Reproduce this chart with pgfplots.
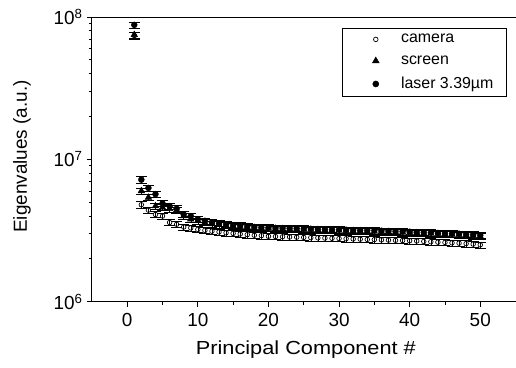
\documentclass[border=0pt]{standalone}
\usepackage{pgfplots}
\pgfplotsset{compat=1.18}
\usepackage{pgfplotstable}
\usepackage{graphicx}
\usepackage{fontspec}
\setmainfont{Liberation Sans}

\pgfplotstableread{
x y
1 7.4e7
2 4.8e6
3 4.4e6
4 4.1e6
5 4.0e6
6 3.6e6
7 3.5e6
8 3.35e6
9 3.3e6
10 3.22e6
11 3.17e6
12 3.13e6
13 3.09e6
14 3.05e6
15 3.02e6
16 2.99e6
17 2.96e6
18 2.93e6
19 2.91e6
20 2.88e6
21 2.87e6
22 2.86e6
23 2.85e6
24 2.84e6
25 2.83e6
26 2.82e6
27 2.81e6
28 2.80e6
29 2.79e6
30 2.78e6
31 2.77e6
32 2.76e6
33 2.75e6
34 2.74e6
35 2.73e6
36 2.72e6
37 2.71e6
38 2.70e6
39 2.69e6
40 2.68e6
41 2.67e6
42 2.65e6
43 2.64e6
44 2.62e6
45 2.61e6
46 2.59e6
47 2.58e6
48 2.56e6
49 2.54e6
50 2.51e6
}\camera

\pgfplotstableread{
x y
1 7.5e7
2 6.0e6
3 5.4e6
4 4.7e6
5 4.6e6
6 4.5e6
7 4.4e6
8 4.0e6
9 3.8e6
10 3.7e6
11 3.6e6
12 3.52e6
13 3.48e6
14 3.43e6
15 3.40e6
16 3.36e6
17 3.33e6
18 3.30e6
19 3.28e6
20 3.27e6
21 3.25e6
22 3.24e6
23 3.23e6
24 3.22e6
25 3.21e6
26 3.20e6
27 3.19e6
28 3.18e6
29 3.17e6
30 3.16e6
31 3.15e6
32 3.14e6
33 3.13e6
34 3.12e6
35 3.11e6
36 3.10e6
37 3.09e6
38 3.07e6
39 3.06e6
40 3.05e6
41 3.04e6
42 3.02e6
43 3.01e6
44 3.00e6
45 2.98e6
46 2.97e6
47 2.95e6
48 2.93e6
49 2.91e6
50 2.88e6
}\screen

\pgfplotstableread{
x y
1 8.8e7
2 7.2e6
3 6.3e6
4 5.7e6
5 4.9e6
6 4.7e6
7 4.5e6
8 4.1e6
9 4.0e6
10 3.8e6
11 3.7e6
12 3.6e6
13 3.55e6
14 3.5e6
15 3.45e6
16 3.42e6
17 3.38e6
18 3.35e6
19 3.33e6
20 3.31e6
21 3.30e6
22 3.29e6
23 3.28e6
24 3.27e6
25 3.26e6
26 3.25e6
27 3.24e6
28 3.23e6
29 3.22e6
30 3.21e6
31 3.20e6
32 3.19e6
33 3.18e6
34 3.17e6
35 3.16e6
36 3.15e6
37 3.14e6
38 3.12e6
39 3.11e6
40 3.10e6
41 3.08e6
42 3.07e6
43 3.06e6
44 3.04e6
45 3.03e6
46 3.01e6
47 3.00e6
48 2.98e6
49 2.96e6
50 2.93e6
}\laser

\pgfplotsset{
  legmark/.style={legend image code/.code={%
    \path (0bp,-4bp) (46bp,4bp);
    \draw[mark repeat=2,mark phase=2,##1] plot coordinates {(0bp,0bp)(23bp,0bp)(46bp,0bp)};}},
}

\begin{document}
\begin{tikzpicture}
\begin{axis}[
  scale only axis,
  width=424bp, height=285bp,
  ymode=log,
  xmin=-5, xmax=55,
  ymin=1e6, ymax=1e8,
  axis x line*=box,
  axis y line*=left,
  x axis line style={-},
  y axis line style={-},
  axis line style={line width=0.9pt},
  xtick={0,10,20,30,40,50},
  minor x tick num=1,
  xtick pos=bottom,
  ytick pos=left,
  tick align=outside,
  major tick length=5bp,
  minor tick length=3bp,
  tick style={black, line width=0.8pt},
  ytick={1e6,1e7,1e8},
  yticklabels={10\textsuperscript{6},10\textsuperscript{7},10\textsuperscript{8}},
  /pgf/number format/assume math mode=true,
  ticklabel style={font=\fontsize{19}{22}\selectfont},
  yticklabel style={xshift=-1bp},
  xticklabel style={yshift=-3bp},
  xlabel={\scalebox{1.15}[1]{Principal Component \#}},
  ylabel={Eigenvalues (a.u.)},
  label style={font=\fontsize{19}{22}\selectfont},
  xlabel style={at={(axis description cs:0.505,-0.168)}, anchor=center},
  ylabel style={at={(axis description cs:-0.165,0.51)}, anchor=center},
  legend style={draw=black, line width=0.6pt, at={(0.978,0.961)}, anchor=north east,
    font=\fontsize{16}{19}\selectfont, row sep=7.5bp, inner xsep=10.5bp, inner ysep=4bp},
  legend cell align=left,
  error bars/y dir=both,
  error bars/y fixed relative=0.05,
  error bars/error mark options={rotate=90, mark size=5.5bp, line width=0.5pt, black},
  error bars/error bar style={line width=0.5pt, black},
]
\addplot[only marks, mark=o, mark size=2.3bp, mark options={black, line width=0.7pt, fill=white}, legmark] table {\camera};
\addlegendentry{camera}
\addplot[only marks, mark=triangle*, mark size=3.8bp, mark options={black}, legmark] table {\screen};
\addlegendentry{screen}
\addplot[only marks, mark=*, mark size=3bp, mark options={black}, legmark] table {\laser};
\addlegendentry{laser 3.39\textmu m}
\end{axis}
\path[use as bounding box] (-92bp,-66bp) rectangle (424bp,302bp);
\end{tikzpicture}
\end{document}
